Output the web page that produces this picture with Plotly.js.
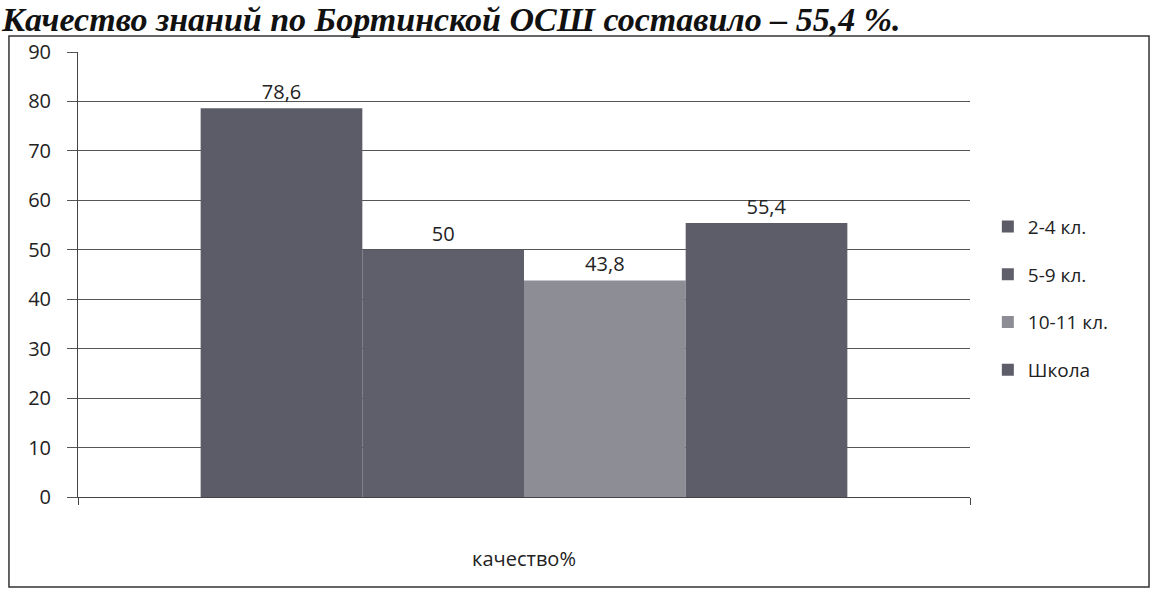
<!DOCTYPE html>
<html>
<head>
<meta charset="utf-8">
<script src="https://cdn.plot.ly/plotly-3.0.1.min.js"></script>
<style>
  html, body { margin: 0; padding: 0; background: #ffffff; }
  #chart { width: 1151px; height: 592px; }
</style>
</head>
<body>
<div id="chart"></div>
<script>
// ---- data ----
const categories = ["качество%"];
const seriesNames = ["2-4 кл.", "5-9 кл.", "10-11 кл.", "Школа"];
const values_2_4 = [78.6];
const values_5_9 = [50];
const values_10_11 = [43.8];
const values_school = [55.4];
const titleText = "Качество знаний по Бортинской ОСШ составило – 55,4 %.";
const yTicks = [0, 10, 20, 30, 40, 50, 60, 70, 80, 90];

// ---- style ----
const colors = ["#5b5c68", "#5e5f6b", "#8d8e95", "#5c5d69"];
const seriesValues = [values_2_4, values_5_9, values_10_11, values_school];
const font = "Open Sans, Noto Sans, Liberation Sans, sans-serif";

const traces = seriesNames.map((name, i) => ({
  type: "bar",
  name: name,
  x: categories,
  y: seriesValues[i],
  legendgroup: "g" + i,
  marker: { color: colors[i], line: { width: 0 } },
  texttemplate: "%{y}",
  textposition: "outside",
  cliponaxis: false,
  textfont: { family: font, size: 20, color: "#222" },
  hoverinfo: "skip"
}));

const layout = {
  width: 1151,
  height: 592,
  margin: { l: 78, r: 181, t: 52, b: 95 },
  paper_bgcolor: "#ffffff",
  plot_bgcolor: "#ffffff",
  separators: ", ",
  barmode: "group",
  bargap: 0.275,
  bargroupgap: 0,
  showlegend: true,
  title: {
    text: "<b><i>" + titleText + "</i></b>",
    font: { family: "Liberation Serif, DejaVu Serif, serif", size: 34, color: "#111" },
    xref: "container", yref: "container",
    x: 0.0, xanchor: "left",
    y: 1.0, yanchor: "top",
    pad: { t: 7, l: 2 }
  },
  font: { family: font, size: 20, color: "#222" },
  xaxis: {
    type: "category",
    showgrid: false,
    showline: true,
    linecolor: "#444",
    linewidth: 1,
    ticks: "outside",
    tickson: "boundaries",
    ticklen: 7,
    tickcolor: "#444",
    tickfont: { family: font, size: 20, color: "#222" },
    ticklabelstandoff: 44,
    zeroline: false,
    fixedrange: true
  },
  yaxis: {
    range: [0, 90],
    tickmode: "array",
    tickvals: yTicks,
    ticktext: yTicks.map(String),
    showgrid: true,
    gridcolor: "#555",
    gridwidth: 1,
    showline: true,
    linecolor: "#444",
    linewidth: 1,
    ticks: "outside",
    ticklen: 10,
    tickcolor: "#555",
    tickfont: { family: font, size: 20, color: "#222" },
    ticklabelstandoff: 12,
    zeroline: false,
    fixedrange: true
  },
  legend: {
    x: 1.02, xanchor: "left",
    y: 0.65, yanchor: "top",
    traceorder: "grouped",
    tracegroupgap: 20,
    font: { family: font, size: 19, color: "#222" },
    bgcolor: "rgba(0,0,0,0)",
    itemwidth: 30
  },
  shapes: [
    {
      type: "rect", xref: "paper", yref: "paper",
      x0: -0.0774, x1: 1.2007, y0: -0.202, y1: 1.036,
      line: { color: "#333", width: 1.5 },
      fillcolor: "rgba(0,0,0,0)",
      layer: "below"
    }
  ]
};

Plotly.newPlot("chart", traces, layout, { staticPlot: true, displayModeBar: false });
</script>
</body>
</html>
